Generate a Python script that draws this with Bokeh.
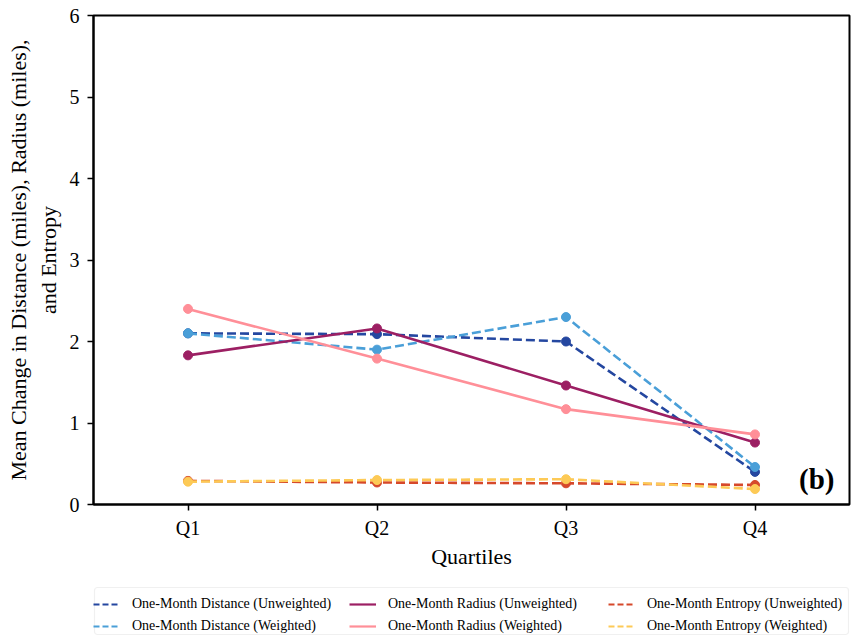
from bokeh.plotting import figure
from bokeh.layouts import column
from bokeh.models import Range1d, FactorRange, Legend, LegendItem, Label, FixedTicker, BoxAnnotation
from bokeh.embed import file_html
from bokeh.resources import INLINE

quartiles = ["Q1", "Q2", "Q3", "Q4"]
dist_unw = [2.10, 2.09, 2.00, 0.40]
dist_w = [2.10, 1.90, 2.30, 0.46]
rad_unw = [1.83, 2.16, 1.46, 0.76]
rad_w = [2.40, 1.79, 1.17, 0.86]
ent_unw = [0.29, 0.27, 0.26, 0.24]
ent_w = [0.28, 0.30, 0.31, 0.19]

series = [
    ("One-Month Distance (Unweighted)", dist_unw, "#2447a0", "dashed"),
    ("One-Month Distance (Weighted)", dist_w, "#4a9fd8", "dashed"),
    ("One-Month Radius (Unweighted)", rad_unw, "#9c1f63", "solid"),
    ("One-Month Radius (Weighted)", rad_w, "#ff8f98", "solid"),
    ("One-Month Entropy (Unweighted)", ent_unw, "#d6482b", "dashed"),
    ("One-Month Entropy (Weighted)", ent_w, "#fdca56", "dashed"),
]

FONT = "Liberation Serif"

p = figure(frame_width=756, frame_height=489, x_range=FactorRange(factors=quartiles),
           y_range=Range1d(0, 6), output_backend="svg", toolbar_location=None,
           min_border_left=93, min_border_right=6, min_border_top=15, min_border_bottom=76)

for name, vals, color, dash in series:
    dash_style = "9 4" if dash == "dashed" else "solid"
    p.line(quartiles, vals, line_color=color, line_width=2.6, line_dash=dash_style)
    p.scatter(quartiles, vals, size=9, fill_color=color, line_color=color)

p.xgrid.visible = False
p.ygrid.visible = False
p.outline_line_color = "black"
p.outline_line_width = 2
p.outline_line_alpha = 1

for ax in (p.xaxis[0], p.yaxis[0]):
    ax.axis_line_width = 2
    ax.major_tick_line_width = 1.5
    ax.major_tick_out = 6
    ax.major_tick_in = 0
    ax.minor_tick_line_color = None
    ax.major_label_text_font = FONT
    ax.major_label_text_font_size = "20px"
    ax.axis_label_text_font = FONT
    ax.axis_label_text_font_size = "22px"
    ax.axis_label_text_font_style = "normal"
    ax.major_label_text_color = "black"
    ax.axis_label_text_color = "black"

p.yaxis[0].ticker = FixedTicker(ticks=[0, 1, 2, 3, 4, 5, 6])
p.yaxis[0].axis_label = "Mean Change in Distance (miles), Radius (miles),\nand Entropy"
p.yaxis[0].major_label_standoff = 8
p.yaxis[0].axis_label_standoff = 6
p.xaxis[0].axis_label = "Quartiles"
p.xaxis[0].major_label_standoff = 6
p.xaxis[0].axis_label_standoff = 2

lbl = Label(x=4.0, y=0, x_offset=-15, y_offset=26, text="(b)", text_font=FONT,
            text_font_size="29px", text_font_style="bold", text_color="black",
            text_align="right", text_baseline="alphabetic")
p.add_layout(lbl)

# legend strip below the chart (its frame is aligned with the chart's frame)
lf = figure(width=855, height=56, x_range=FactorRange(factors=quartiles), y_range=Range1d(100, 101),
            output_backend="svg", toolbar_location=None,
            min_border_left=93, min_border_right=6, min_border_top=0, min_border_bottom=0)
lf.axis.visible = False
lf.grid.visible = False
lf.outline_line_color = None

legend_renderers = []
for name, vals, color, dash in series:
    dash_style = "6 3" if dash == "dashed" else "solid"
    # proxy line (out of view) used only for the legend swatch
    r = lf.line(quartiles, vals, line_color=color, line_width=2.2, line_dash=dash_style)
    legend_renderers.append((name, r))

border = BoxAnnotation(left=1, right=755, bottom=2, top=49,
                       left_units="screen", right_units="screen",
                       bottom_units="screen", top_units="screen",
                       fill_alpha=0, line_color="#cccccc", line_width=1.2,
                       border_radius=3)
lf.add_layout(border)

col_x = [0, 256, 515]
for i, cx in enumerate(col_x):
    its = [LegendItem(label=n, renderers=[r]) for n, r in legend_renderers[2 * i:2 * i + 2]]
    lg = Legend(items=its, location=(cx, 1), orientation="vertical")
    lg.label_text_font = FONT
    lg.label_text_font_size = "14px"
    lg.label_text_color = "black"
    lg.glyph_width = 27
    lg.glyph_height = 18
    lg.spacing = 4
    lg.padding = 4
    lg.margin = 0
    lg.label_standoff = 12
    lg.border_line_color = None
    lg.background_fill_alpha = 0
    lf.add_layout(lg, "center")

layout = column(p, lf, spacing=0)
open("out.html", "w").write(file_html(layout, INLINE))
